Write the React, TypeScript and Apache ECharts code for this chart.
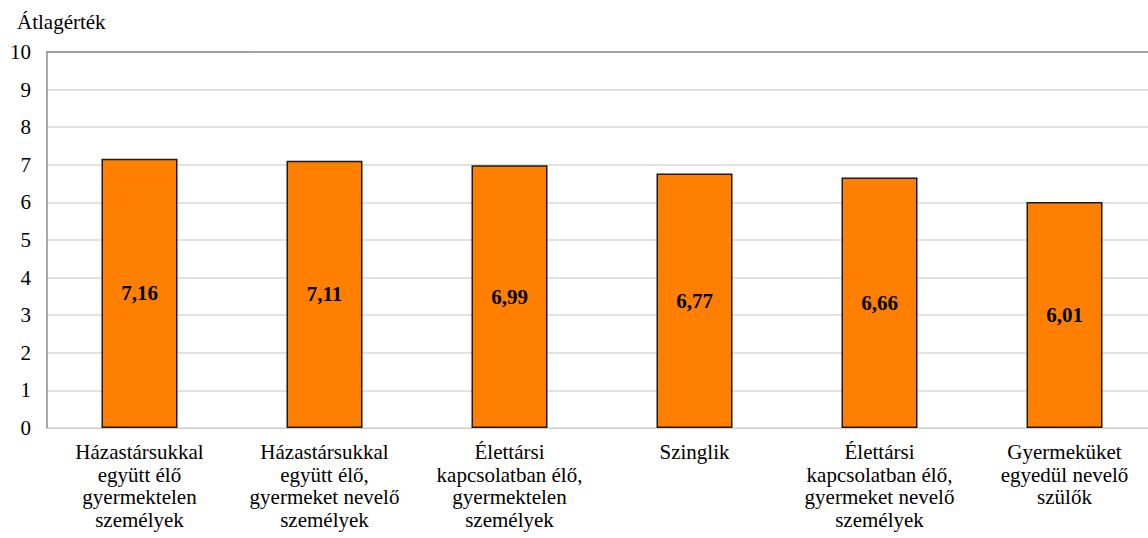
import React, { useEffect, useRef } from "react";
import * as echarts from "echarts";

const categories = [
  "Házastársukkal\negyütt élő\ngyermektelen\nszemélyek",
  "Házastársukkal\negyütt élő,\ngyermeket nevelő\nszemélyek",
  "Élettársi\nkapcsolatban élő,\ngyermektelen\nszemélyek",
  "Szinglik",
  "Élettársi\nkapcsolatban élő,\ngyermeket nevelő\nszemélyek",
  "Gyermeküket\negyedül nevelő\nszülők",
];
const values = [7.16, 7.11, 6.99, 6.77, 6.66, 6.01];
const yAxisName = "Átlagérték";

const FONT = "Liberation Serif";

export default function App() {
  const ref = useRef<HTMLDivElement>(null);
  useEffect(() => {
    if (!ref.current) return;
    const chart = echarts.init(ref.current, undefined, { renderer: "svg" });
    chart.setOption({
      animation: false,
      textStyle: { fontFamily: FONT },
      grid: { left: 47, top: 52, right: 3, bottom: 110, containLabel: false },
      xAxis: [
        {
          type: "category",
          data: categories,
          axisLine: { show: true, lineStyle: { color: "#d0d0d0", width: 1 } },
          axisTick: { show: false },
          axisLabel: {
            interval: 0,
            fontFamily: FONT,
            fontSize: 21,
            color: "#000",
            lineHeight: 22.5,
            margin: 13,
          },
        },
        {
          type: "category",
          position: "top",
          data: categories,
          axisLine: { show: true, lineStyle: { color: "#8c8c8c", width: 1.5 } },
          axisTick: { show: false },
          axisLabel: { show: false },
        },
      ],
      yAxis: {
        type: "value",
        min: 0,
        max: 10,
        interval: 1,
        name: yAxisName,
        nameLocation: "end",
        nameGap: 20,
        nameTextStyle: {
          fontFamily: FONT,
          fontSize: 21,
          color: "#000",
          align: "left",
          padding: [0, 0, 0, -30],
        },
        axisLine: { show: true, lineStyle: { color: "#8c8c8c", width: 1.5 } },
        axisTick: { show: false },
        axisLabel: {
          fontFamily: FONT,
          fontSize: 21,
          color: "#000",
          margin: 16,
        },
        splitLine: { show: true, lineStyle: { color: "#d9d9d9", width: 1.5 } },
      },
      series: [
        {
          type: "bar",
          data: values,
          barWidth: 76,
          itemStyle: { color: "#ff8000", borderColor: "#1a1a1a", borderWidth: 1.5 },
          label: {
            show: true,
            position: "inside",
            fontFamily: FONT,
            fontSize: 21,
            fontWeight: "bold",
            color: "#000",
            formatter: (p: any) => p.value.toFixed(2).replace(".", ","),
          },
        },
      ],
    });
    return () => chart.dispose();
  }, []);
  return (
    <div style={{ position: "fixed", left: 0, top: 0, width: 1148, height: 538, overflow: "hidden", background: "#fff" }}>
      <div ref={ref} style={{ width: 1160, height: 538 }} />
    </div>
  );
}
